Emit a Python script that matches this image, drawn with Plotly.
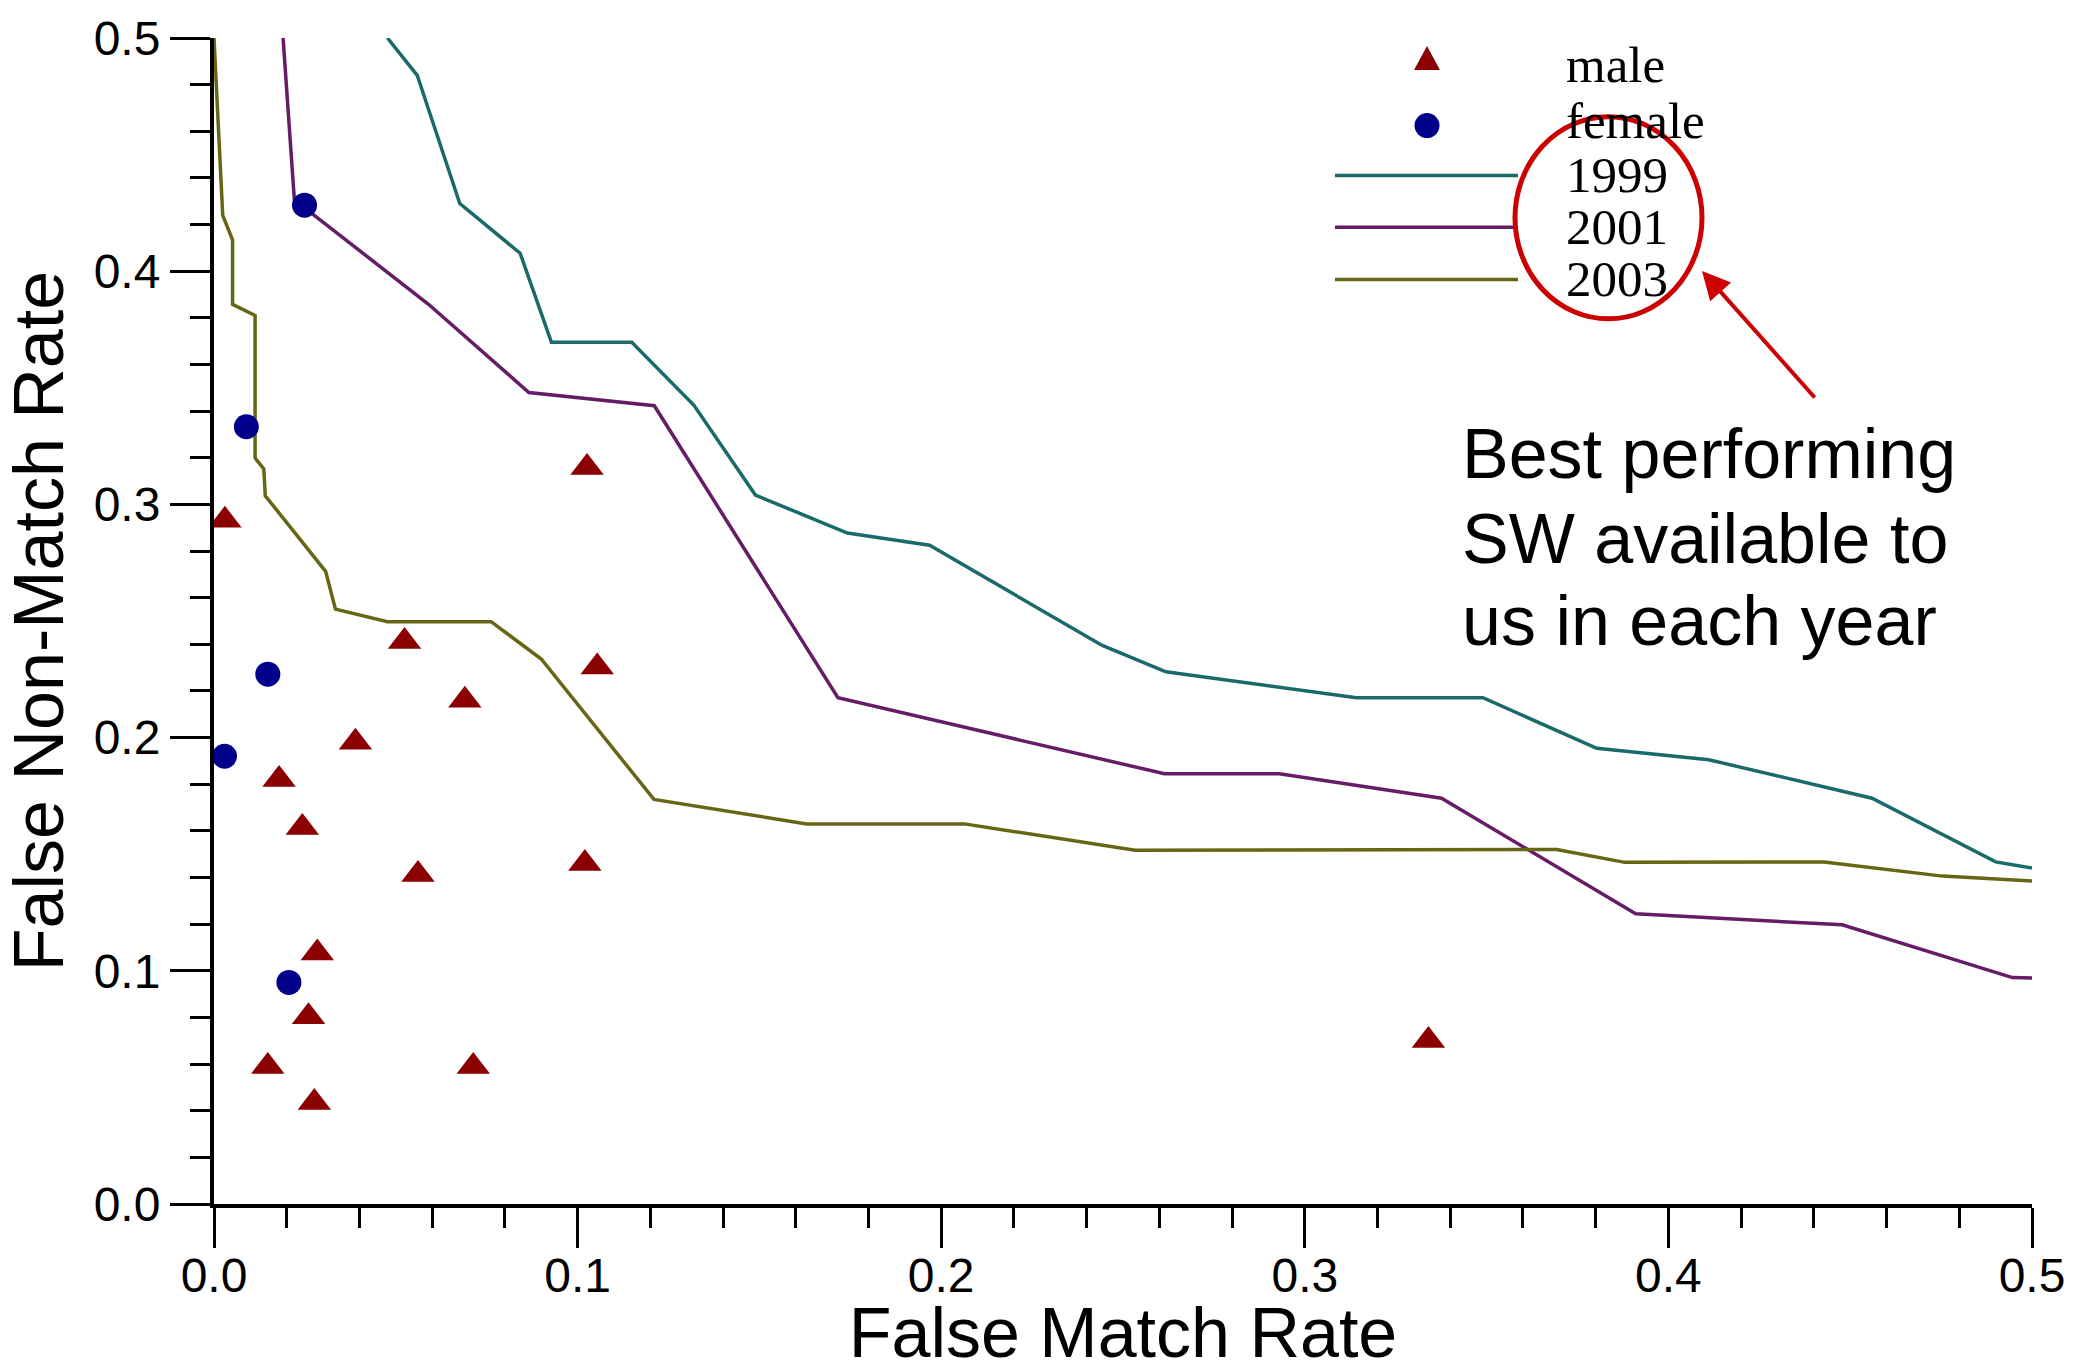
import plotly.graph_objects as go

# ---------------- data ----------------
male_fmr = [0.003, 0.1026, 0.0524, 0.1054, 0.069, 0.0389, 0.0179, 0.0243,
            0.0561, 0.102, 0.0284, 0.026, 0.0148, 0.0713, 0.0276, 0.334]
male_fnmr = [0.2932, 0.3158, 0.2412, 0.2303, 0.216, 0.198, 0.182, 0.1615,
             0.1413, 0.146, 0.1076, 0.0803, 0.059, 0.059, 0.0435, 0.0701]

female_fmr = [0.0249, 0.0089, 0.0148, 0.0029, 0.0206]
female_fnmr = [0.4283, 0.3333, 0.2272, 0.192, 0.095]

y1999_fmr = [0.0477, 0.0559, 0.0676, 0.0842, 0.0928, 0.1149, 0.132, 0.1489,
             0.1742, 0.1968, 0.2443, 0.2618, 0.3142, 0.349, 0.3803, 0.4111,
             0.456, 0.49, 0.5]
y1999_fnmr = [0.5, 0.484, 0.429, 0.4077, 0.3695, 0.3695, 0.3425, 0.304,
              0.2877, 0.2825, 0.2395, 0.2282, 0.2171, 0.2171, 0.1954, 0.1905,
              0.174, 0.1467, 0.1441]

y2001_fmr = [0.019, 0.0221, 0.059, 0.0866, 0.1211, 0.1716, 0.2614, 0.293,
             0.3376, 0.391, 0.4478, 0.4946, 0.5]
y2001_fnmr = [0.5, 0.4306, 0.3858, 0.348, 0.3423, 0.2171, 0.1845, 0.1845,
              0.174, 0.1245, 0.1197, 0.0971, 0.0969]

y2003_fmr = [0.0, 0.0024, 0.0051, 0.0051, 0.0113, 0.0113, 0.0137, 0.0141,
             0.0307, 0.0334, 0.0477, 0.0762, 0.09, 0.121, 0.163, 0.2064,
             0.2533, 0.3693, 0.388, 0.4428, 0.4754, 0.5]
y2003_fnmr = [0.5, 0.4239, 0.4134, 0.3858, 0.381, 0.3199, 0.3152, 0.3037,
              0.2713, 0.2551, 0.2497, 0.2497, 0.2337, 0.1735, 0.163, 0.163,
              0.1517, 0.152, 0.1465, 0.1467, 0.1406, 0.1385]

legend_labels = ["male", "female", "1999", "2001", "2003"]
note_lines = ["Best performing", "SW available to", "us in each year"]
x_title = "False Match Rate"
y_title = "False Non-Match Rate"

# ---------------- styling ----------------
C_TEAL = "#1b6a6a"
C_PURPLE = "#661c66"
C_OLIVE = "#666614"
C_MALE = "#8b0000"
C_FEMALE = "#00008b"
C_RED = "#cc0000"

W, H = 2080, 1372
ML, MR, MT, MB = 214, 48, 33, 168
PW, PH = W - ML - MR, H - MT - MB


def px(x):
    return (x - ML) / PW


def py(y):
    return (H - MB - y) / PH


SANS = "Liberation Sans, Arial, sans-serif"
SERIF = "Liberation Serif, Times New Roman, serif"

fig = go.Figure()

for xs, ys, col, name in [(y1999_fmr, y1999_fnmr, C_TEAL, "1999"),
                          (y2001_fmr, y2001_fnmr, C_PURPLE, "2001"),
                          (y2003_fmr, y2003_fnmr, C_OLIVE, "2003")]:
    fig.add_trace(go.Scatter(x=xs, y=ys, mode="lines", name=name,
                             line=dict(color=col, width=3.5)))

fig.add_trace(go.Scatter(x=male_fmr, y=male_fnmr, mode="markers", name="male",
                         marker=dict(symbol="triangle-up", size=29, color=C_MALE,
                                     line=dict(width=0))))
fig.add_trace(go.Scatter(x=female_fmr, y=female_fnmr, mode="markers", name="female",
                         marker=dict(symbol="circle", size=25, color=C_FEMALE,
                                     line=dict(width=0))))

axis_common = dict(
    range=[0, 0.5], dtick=0.1, tick0=0, tickformat=".1f",
    showgrid=False, zeroline=False, showline=True, linewidth=4, linecolor="black",
    ticks="outside", ticklen=40, tickwidth=3, tickcolor="black",
    minor=dict(ticks="outside", ticklen=20, tickwidth=3, dtick=0.02, tickcolor="black"),
    tickfont=dict(family=SANS, size=48, color="black"),
)

fig.update_layout(
    width=W, height=H,
    margin=dict(l=ML, r=MR, t=MT, b=MB, pad=0),
    plot_bgcolor="white", paper_bgcolor="white",
    showlegend=False,
    xaxis=dict(**axis_common, ticklabelstandoff=-14,
               title=dict(text=x_title, font=dict(family=SANS, size=70, color="black"),
                          standoff=4)),
    yaxis=dict(**axis_common,
               title=dict(text=y_title, font=dict(family=SANS, size=70, color="black"),
                          standoff=20)),
)

shapes = []
annotations = []

# legend markers
mx = px(1427)
shapes.append(dict(type="path", xref="paper", yref="paper",
                   xsizemode="pixel", ysizemode="pixel",
                   xanchor=mx, yanchor=py(57),
                   path="M-13,-8 L13,-8 L0,16 Z",
                   fillcolor=C_MALE, line=dict(width=0)))
shapes.append(dict(type="circle", xref="paper", yref="paper",
                   xsizemode="pixel", ysizemode="pixel",
                   xanchor=mx, yanchor=py(121),
                   x0=-12.5, x1=12.5, y0=-12.5, y1=12.5,
                   fillcolor=C_FEMALE, line=dict(width=0)))
# legend lines
for yy, col in [(171, C_TEAL), (223, C_PURPLE), (275.5, C_OLIVE)]:
    shapes.append(dict(type="line", xref="paper", yref="paper",
                       x0=px(1335), x1=px(1518), y0=py(yy), y1=py(yy),
                       line=dict(color=col, width=3.5)))
# legend texts
for lab, base in zip(legend_labels, [77, 134, 187.5, 240, 292]):
    annotations.append(dict(text=lab, xref="paper", yref="paper",
                            x=px(1564), y=py(base - 17.2),
                            xanchor="left", yanchor="middle", showarrow=False,
                            font=dict(family=SERIF, size=51, color="black")))

# red ellipse
shapes.append(dict(type="circle", xref="paper", yref="paper",
                   x0=px(1515), x1=px(1702), y0=py(315), y1=py(112),
                   line=dict(color=C_RED, width=5)))

# arrow
annotations.append(dict(text="", xref="paper", yref="paper",
                        x=px(1702), y=py(267), ax=114, ay=128,
                        showarrow=True, arrowhead=2, arrowsize=1.4,
                        arrowwidth=4, arrowcolor=C_RED))

# note text
for line, base in zip(note_lines, [475, 560, 643]):
    annotations.append(dict(text=line, xref="paper", yref="paper",
                            x=px(1460), y=py(base - 24.3),
                            xanchor="left", yanchor="middle", showarrow=False,
                            font=dict(family=SANS, size=70, color="black")))

fig.update_layout(shapes=shapes, annotations=annotations)

fig.write_html("out.html",
               config={"displayModeBar": False},
               post_script="document.body.style.margin='0';"
                           "document.body.style.overflow='hidden';")
